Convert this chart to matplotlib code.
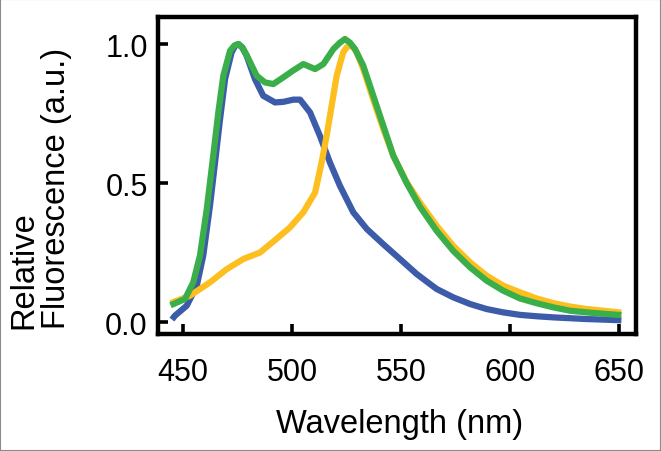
#!/usr/bin/env python3
"""Normalised emission spectra: CFP, YFP and combined (FRET) trace."""

import matplotlib

matplotlib.use("Agg")
import matplotlib.pyplot as plt
from matplotlib.patches import Rectangle

plt.rcParams["font.family"] = ["Liberation Sans", "DejaVu Sans"]

# values
blue_wl = [445.8, 446.3, 451.7, 456.3, 459.3, 462.4, 464.7, 467.0, 469.3, 472.3,
           473.8, 475.4, 477.2, 479.2, 483.0, 486.8, 492.2, 496.0, 500.6, 503.7,
           508.3, 512.8, 517.4, 522.0, 528.1, 534.3, 541.9, 549.5, 557.2, 563.3,
           566.4, 574.0, 581.7, 589.3, 596.9, 604.6, 612.2, 619.9, 627.5, 635.2,
           642.8, 649.7]
blue_val = [0.018, 0.023, 0.059, 0.13, 0.24, 0.42, 0.574, 0.73, 0.874, 0.97,
            0.992, 1.0, 0.987, 0.958, 0.874, 0.814, 0.79, 0.792, 0.80, 0.80,
            0.754, 0.67, 0.574, 0.49, 0.395, 0.335, 0.28, 0.227, 0.173, 0.137,
            0.119, 0.089, 0.065, 0.047, 0.035, 0.026, 0.021, 0.017, 0.014, 0.011,
            0.009, 0.007]

yellow_wl = [445.6, 453.2, 462.4, 470.0, 477.7, 485.3, 493.0, 499.0, 505.2, 510.6,
             513.6, 515.9, 518.2, 520.5, 523.5, 525.1, 526.6, 528.2, 529.7, 532.7,
             537.3, 541.9, 546.5, 552.6, 558.7, 566.4, 574.0, 581.7, 589.3, 596.9,
             604.6, 612.2, 619.9, 627.5, 635.2, 642.8, 649.7]
yellow_val = [0.072, 0.095, 0.143, 0.19, 0.227, 0.25, 0.30, 0.34, 0.395, 0.466,
              0.574, 0.67, 0.778, 0.886, 0.97, 0.988, 0.994, 0.988, 0.97, 0.91,
              0.80, 0.694, 0.598, 0.503, 0.43, 0.346, 0.274, 0.215, 0.167, 0.131,
              0.107, 0.085, 0.068, 0.056, 0.047, 0.041, 0.035]

green_wl = [445.6, 450.9, 454.7, 457.8, 460.9, 463.9, 466.2, 468.5, 471.6, 473.6,
            475.4, 477.3, 479.2, 483.8, 487.6, 491.4, 496.0, 500.6, 505.2, 510.6,
            514.4, 519.0, 522.0, 524.3, 526.6, 528.9, 532.7, 537.3, 541.9, 546.5,
            552.6, 558.7, 566.4, 574.0, 581.7, 589.3, 596.9, 604.6, 612.2, 619.9,
            627.5, 635.2, 642.8, 649.7]
green_val = [0.065, 0.083, 0.143, 0.24, 0.406, 0.60, 0.754, 0.886, 0.976, 0.995,
             1.0, 0.987, 0.96, 0.886, 0.862, 0.856, 0.88, 0.905, 0.928, 0.91,
             0.928, 0.982, 1.005, 1.018, 1.005, 0.982, 0.922, 0.814, 0.706, 0.598,
             0.50, 0.415, 0.328, 0.256, 0.197, 0.149, 0.113, 0.085, 0.068, 0.053,
             0.041, 0.035, 0.030, 0.026]

x_ticks = [450, 500, 550, 600, 650]
y_ticks = [0.0, 0.5, 1.0]


def main():
    fig = plt.figure(figsize=(6.61, 4.52), dpi=100)
    ax = fig.add_axes([157.5 / 661, 1 - 334.5 / 452, 478 / 661, 317 / 452])

    lw = 4.5
    ax.plot(blue_wl, blue_val, color="#3c5ba8", linewidth=lw, solid_joinstyle="round")
    ax.plot(yellow_wl, yellow_val, color="#fdbf1f", linewidth=lw, solid_joinstyle="round")
    ax.plot(green_wl, green_val, color="#3aae49", linewidth=lw, solid_joinstyle="round")

    ax.set_xlim(438.3, 657.6)
    ax.set_ylim(-0.041, 1.099)
    ax.set_xticks(x_ticks)
    ax.set_yticks(y_ticks)
    ax.set_yticklabels([f"{v:.1f}" for v in y_ticks])

    for s in ax.spines.values():
        s.set_linewidth(3.2)
    ax.tick_params(axis="both", direction="in", length=7.5, width=2.6, labelsize=22)
    ax.tick_params(axis="x", pad=17)
    ax.tick_params(axis="y", pad=7)

    fig.text(400 / 661, 1 - 433 / 452, "Wavelength (nm)", fontsize=23.5,
             ha="center", va="baseline")
    fig.text(40 / 661, 1 - 188 / 452, "Relative\nFluorescence (a.u.)", fontsize=23.5,
             rotation=90, ha="center", va="center", multialignment="left",
             linespacing=1.05)

    fig.patches.append(Rectangle((0, 0), 1, 1, transform=fig.transFigure, fill=False,
                                 edgecolor="#8a8a8a", linewidth=1.5))

    fig.savefig("out.png", dpi=100)
    plt.close(fig)


if __name__ == "__main__":
    main()
